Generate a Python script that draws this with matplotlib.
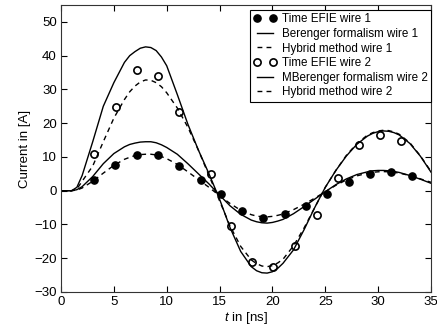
import matplotlib
matplotlib.use('Agg')
import matplotlib.pyplot as plt

plt.rcParams['font.family'] = ['Liberation Sans', 'DejaVu Sans']
plt.rcParams['mathtext.fontset'] = 'custom'
plt.rcParams['mathtext.it'] = 'Liberation Sans:italic'
plt.rcParams['mathtext.rm'] = 'Liberation Sans'

# curve time grid [ns]
t_curve = [0, 1, 1.5, 2, 3, 4, 5, 6, 6.5, 7, 7.5, 8, 8.5, 9, 9.5, 10,
           11, 12, 13, 14, 15, 16, 17, 18, 18.5, 19, 19.5, 20, 20.5, 21,
           22, 23, 24, 25, 26, 27, 28, 29, 29.5, 30, 30.5, 31, 31.5, 32, 33, 34, 35]

# wire 1
berenger_w1 = [0, 0, 0.3, 1.2, 4.2, 8, 11, 13, 13.7, 14.1, 14.4, 14.5, 14.5, 14.2, 13.6, 12.8,
               10.8, 8, 5, 2, -1.3, -4.5, -7, -8.7, -9.2, -9.5, -9.6, -9.4, -9.0, -8.5,
               -6.8, -4.7, -2.5, -0.3, 1.8, 3.5, 4.8, 5.6, 5.9, 6, 6.0, 5.9, 5.7, 5.4, 4.5, 3.4, 2.2]
hybrid_w1 = [0, 0, 0.2, 0.8, 2.8, 5.2, 7.5, 9.3, 9.9, 10.4, 10.7, 10.8, 10.8, 10.6, 10.1, 9.5,
             7.8, 5.6, 3.3, 1, -1.5, -3.8, -5.8, -7.1, -7.5, -7.7, -7.75, -7.6, -7.3, -6.9,
             -5.6, -4, -2.2, -0.3, 1.6, 3.2, 4.4, 5.2, 5.45, 5.6, 5.65, 5.6, 5.45, 5.2, 4.5, 3.5, 2.5]

# wire 2
berenger_w2 = [0, 0, 1, 4.5, 14.5, 25, 32, 38, 40, 41.2, 42.2, 42.6, 42.4, 41.5, 39.6, 37,
               28.5, 19.7, 12, 5, -2.5, -11, -18, -22.5, -23.7, -24.3, -24.4, -24, -23, -21.5,
               -17.5, -11.5, -5, 1, 6, 10.3, 13.8, 16.2, 17, 17.5, 17.7, 17.6, 17.2, 16.5, 14, 10.2, 5.5]
hybrid_w2 = [0, 0, 0.5, 2.8, 7.3, 14.5, 21.5, 27, 29.3, 31, 32.2, 32.8, 32.7, 32, 30.8, 29,
             24.5, 18.8, 12, 4.5, -3, -10.5, -16.5, -20.5, -21.6, -22.3, -22.5, -22.2, -21.4, -20.3,
             -16.3, -11, -5, 1, 6, 10.5, 14, 16.5, 17.2, 17.7, 17.9, 17.8, 17.4, 16.7, 14.2, 10.3, 5.7]

# time EFIE samples
efie_t1 = [3.1, 5.1, 7.2, 9.2, 11.2, 13.2, 15.1, 17.1, 19.1, 21.2, 23.2, 25.2, 27.2,
           29.2, 31.2, 33.2]
efie_w1 = [3.2, 7.7, 10.7, 10.7, 7.2, 3.1, -1.0, -6.0, -8.0, -6.8, -4.6, -0.9, 2.7,
           4.8, 5.5, 4.5]
efie_t2 = [3.15, 5.2, 7.2, 9.2, 11.2, 14.2, 16.1, 18.1, 20.1, 22.1, 24.2, 26.2, 28.2,
           30.2, 32.2]
efie_w2 = [10.9, 24.7, 35.7, 34.0, 23.3, 5.0, -10.4, -21.1, -22.7, -16.4, -7.2, 3.8,
           13.4, 16.4, 14.7]

fig = plt.figure(figsize=(4.37, 3.35), dpi=100)
ax = fig.add_axes([61 / 437, 1 - 292 / 335, 370 / 437, 287 / 335])

dash = (3.5, 3)
ax.plot(efie_t1, efie_w1, 'o', color='black', markersize=5.2, label='Time EFIE wire 1')
ax.plot(t_curve, berenger_w1, '-', color='black', lw=1.0, label='Berenger formalism wire 1')
ax.plot(t_curve, hybrid_w1, '--', color='black', lw=1.0, dashes=dash, label='Hybrid method wire 1')
ax.plot(efie_t2, efie_w2, 'o', markerfacecolor='white', markeredgecolor='black',
        markeredgewidth=1.2, markersize=5.2, label='Time EFIE wire 2')
ax.plot(t_curve, berenger_w2, '-', color='black', lw=1.0, label='MBerenger formalism wire 2')
ax.plot(t_curve, hybrid_w2, '--', color='black', lw=1.0, dashes=dash, label='Hybrid method wire 2')

ax.set_xlim(0, 35)
ax.set_ylim(-30, 55)
ax.set_xticks(range(0, 36, 5))
ax.set_yticks(range(-30, 51, 10))
ax.tick_params(direction='in', top=True, right=True, length=4, labelsize=9.5, pad=3)
for s in ax.spines.values():
    s.set_linewidth(0.8)
    s.set_color('#333333')

ax.set_xlabel('$t$ in [ns]', fontsize=9.5, labelpad=1)
ax.set_ylabel('Current in [A]', fontsize=9.5, labelpad=2)

leg = ax.legend(loc='upper right', bbox_to_anchor=(1.0, 0.983), borderaxespad=0,
                numpoints=2, fontsize=8.4, handlelength=2.0, handletextpad=0.4,
                labelspacing=0.22, borderpad=0.3, fancybox=False, framealpha=1)
leg.get_frame().set_edgecolor('black')
leg.get_frame().set_linewidth(0.8)

fig.savefig('out.png', dpi=100)
